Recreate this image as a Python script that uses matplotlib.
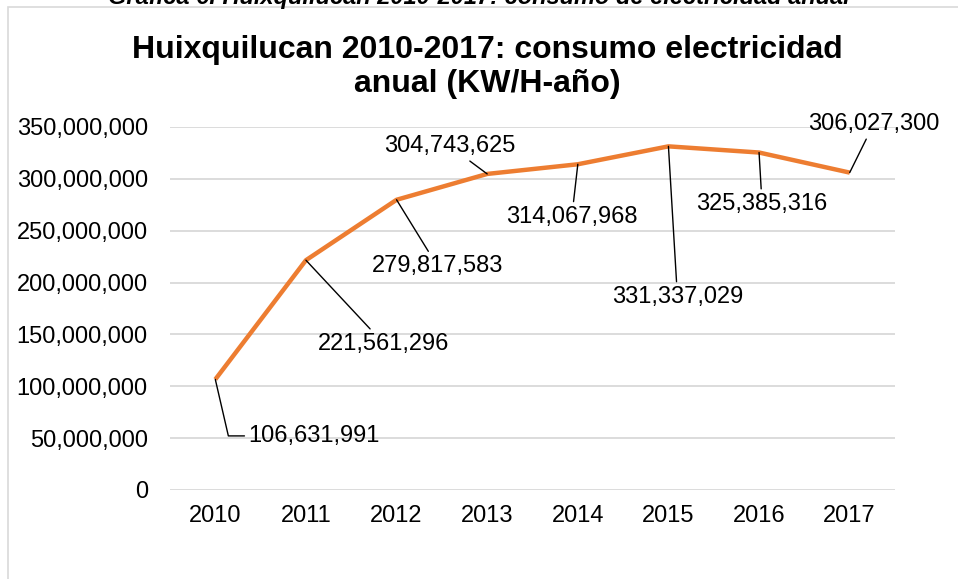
import matplotlib.pyplot as plt
from matplotlib.patches import Rectangle
from matplotlib.ticker import FuncFormatter

plt.rcParams['font.family'] = ['Liberation Sans', 'DejaVu Sans']

years = ['2010', '2011', '2012', '2013', '2014', '2015', '2016', '2017']
consumo = [106631991, 221561296, 279817583, 304743625, 314067968,
           331337029, 325385316, 306027300]

# label offsets in pixels (dx, dy) from each point
offsets = [(99, -54), (78, -81), (41, -64), (-37, 30), (-6, -50),
           (9, -148), (3, -49), (24, 51)]

fig = plt.figure(figsize=(9.58, 5.79), dpi=100)
ax = fig.add_axes([170 / 958, 1 - 490 / 579, 725 / 958, 363 / 579])

# outer chart border
fig.patches.append(Rectangle((8 / 958, -0.05), 1.0, 1 - 7 / 579 + 0.05,
                             transform=fig.transFigure, fill=False,
                             edgecolor='#d9d9d9', lw=1.2))

x = list(range(len(years)))
ax.plot(x, consumo, color='#ED7D31', lw=3.2, solid_capstyle='butt', zorder=3)

for i, v in enumerate(consumo):
    dx, dy = offsets[i]
    cs = 'arc3'
    if i == 0:
        cs = 'angle,angleA=180,angleB=-77,rad=0'
    ax.annotate(f'{v:,}', xy=(i, v), xytext=(dx, dy), textcoords='offset pixels',
                ha='center', va='center_baseline', fontsize=17,
                arrowprops=dict(arrowstyle='-', color='black', lw=1.0,
                                shrinkA=1, shrinkB=0, connectionstyle=cs))

ax.set_xlim(-0.5, 7.5)
ax.set_ylim(0, 350000000)
ax.set_yticks(range(0, 350000001, 50000000))
ax.yaxis.set_major_formatter(FuncFormatter(lambda v, p: f'{int(v):,}'))
ax.set_xticks(x)
ax.set_xticklabels(years)
ax.tick_params(length=0, labelsize=17, pad=11)
ax.tick_params(axis='y', pad=16)
ax.grid(axis='y', color='#d9d9d9', lw=1.3)
ax.set_axisbelow(True)
for s in ax.spines.values():
    s.set_visible(False)

fig.text(0.5 + 8 / 958, 1 - 67 / 579, 'Huixquilucan 2010-2017: consumo electricidad\nanual (KW/H-año)',
         ha='center', va='center', fontsize=23, fontweight='bold', linespacing=1.2)
fig.text(0.5, 1 - 4 / 579, 'Gráfica 6. Huixquilucan 2010-2017: consumo de electricidad anual',
         ha='center', va='baseline', fontsize=17, fontweight='bold', style='italic')

fig.savefig('out.png', dpi=100)
